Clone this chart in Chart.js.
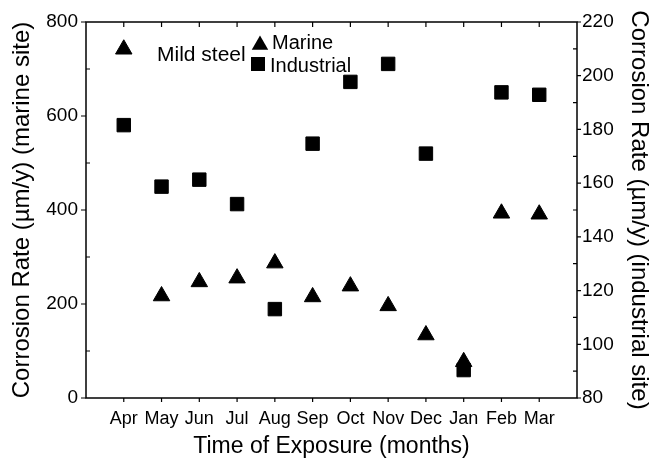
<!DOCTYPE html>
<html><head><meta charset="utf-8">
<script src="https://cdn.jsdelivr.net/npm/chart.js@4.4.0/dist/chart.umd.min.js"></script>
<style>html,body{margin:0;padding:0;background:#fff}#wrap{width:653px;height:460px}</style>
</head><body><div id="wrap"><canvas id="c" width="653" height="460"></canvas></div>
<script>
const months = ['Apr','May','Jun','Jul','Aug','Sep','Oct','Nov','Dec','Jan','Feb','Mar'];
const marine = [742, 217, 247, 255, 287, 215, 238, 196, 134, 77, 393, 391];
const industrial = [181.6, 158.7, 161.3, 152.2, 113.1, 174.7, 197.7, 204.4, 171, 90.4, 193.8, 192.9];
const leftTicks = [0, 200, 400, 600, 800];
const rightTicks = [80, 100, 120, 140, 160, 180, 200, 220];

const FONT = "'Liberation Sans', Arial, Helvetica, sans-serif";

const boxPlugin = {
  id: 'box',
  afterDraw(chart) {
    const ctx = chart.ctx;
    const a = chart.chartArea;
    const sx = chart.scales.x, sy = chart.scales.y, sy2 = chart.scales.y2;
    ctx.save();
    ctx.strokeStyle = '#000';
    ctx.lineWidth = 1.5;
    ctx.strokeRect(a.left, a.top, a.right - a.left, a.bottom - a.top);
    ctx.lineWidth = 1.2;
    ctx.beginPath();
    for (let i = 0; i < months.length; i++) {
      const px = sx.getPixelForValue(i);
      ctx.moveTo(px, a.top); ctx.lineTo(px, a.top + 5);
      ctx.moveTo(px, a.bottom); ctx.lineTo(px, a.bottom + 4);
    }
    for (let v = 0; v <= 800; v += 100) {
      const py = sy.getPixelForValue(v);
      if (leftTicks.includes(v)) { ctx.moveTo(a.left - 5, py); ctx.lineTo(a.left, py); }
      else { ctx.moveTo(a.left, py); ctx.lineTo(a.left + 4, py); }
    }
    for (let v = 80; v <= 220; v += 10) {
      const py = sy2.getPixelForValue(v);
      if (rightTicks.includes(v)) { ctx.moveTo(a.right, py); ctx.lineTo(a.right + 4, py); }
      else { ctx.moveTo(a.right - 4, py); ctx.lineTo(a.right, py); }
    }
    ctx.stroke();

    ctx.fillStyle = '#000';
    ctx.textBaseline = 'middle';
    ctx.textAlign = 'left';
    ctx.font = '21px ' + FONT;
    ctx.fillText('Mild steel', 157, 55);
    ctx.font = '20px ' + FONT;
    ctx.fillText('Marine', 272, 43);
    ctx.fillText('Industrial', 270, 66);
    const r = 9.5, tx = 260, ty = 45;
    ctx.beginPath();
    ctx.moveTo(tx, ty - r);
    ctx.lineTo(tx + r * Math.sin(2 * Math.PI / 3), ty - r * Math.cos(2 * Math.PI / 3));
    ctx.lineTo(tx + r * Math.sin(4 * Math.PI / 3), ty - r * Math.cos(4 * Math.PI / 3));
    ctx.closePath();
    ctx.fill();
    ctx.fillRect(258 - 7, 64 - 7, 14, 14);
    ctx.restore();
  }
};

new Chart(document.getElementById('c'), {
  type: 'scatter',
  data: {
    datasets: [
      {
        label: 'Marine',
        data: months.map((m, i) => ({ x: i, y: marine[i] })),
        yAxisID: 'y',
        pointStyle: 'triangle',
        pointRadius: 9.5,
        backgroundColor: '#000',
        borderColor: '#000',
        borderWidth: 1
      },
      {
        label: 'Industrial',
        data: months.map((m, i) => ({ x: i, y: industrial[i] })),
        yAxisID: 'y2',
        pointStyle: 'rect',
        pointRadius: 9.5,
        backgroundColor: '#000',
        borderColor: '#000',
        borderWidth: 1
      }
    ]
  },
  options: {
    responsive: false,
    animation: false,
    layout: { padding: { top: 22, left: 0, right: 0, bottom: 0 } },
    plugins: { legend: { display: false }, tooltip: { enabled: false } },
    scales: {
      x: {
        type: 'linear', position: 'bottom', min: -1, max: 12,
        grid: { display: false, drawTicks: false }, border: { display: false },
        ticks: {
          stepSize: 1, autoSkip: false, maxRotation: 0, minRotation: 0,
          color: '#000', font: { family: FONT, size: 18 }, padding: 10,
          callback: (v) => (months[v] !== undefined ? months[v] : '')
        },
        title: { display: true, text: 'Time of Exposure (months)', color: '#000',
                 font: { family: FONT, size: 23 }, padding: { top: 0, bottom: 0 } },
        afterFit(s) { s.height = 62; }
      },
      y: {
        type: 'linear', position: 'left', min: 0, max: 800,
        grid: { display: false, drawTicks: false }, border: { display: false },
        afterBuildTicks(s) { s.ticks = leftTicks.map(v => ({ value: v })); },
        ticks: { color: '#000', font: { family: FONT, size: 19 }, padding: 8 },
        title: { display: true, text: 'Corrosion Rate (µm/y) (marine site)', color: '#000',
                 font: { family: FONT, size: 24 }, padding: { top: 8, bottom: 0 } },
        afterFit(s) { s.width = 86; }
      },
      y2: {
        type: 'linear', position: 'right', min: 80, max: 220,
        grid: { display: false, drawTicks: false }, border: { display: false },
        afterBuildTicks(s) { s.ticks = rightTicks.map(v => ({ value: v })); },
        ticks: { color: '#000', font: { family: FONT, size: 19 }, padding: 5 },
        title: { display: true, text: 'Corrosion Rate (µm/y) (industrial site)', color: '#000',
                 font: { family: FONT, size: 24 }, padding: { top: 0, bottom: 0 } },
        afterFit(s) { s.width = 76; }
      }
    }
  },
  plugins: [boxPlugin]
});
</script>
</body></html>
